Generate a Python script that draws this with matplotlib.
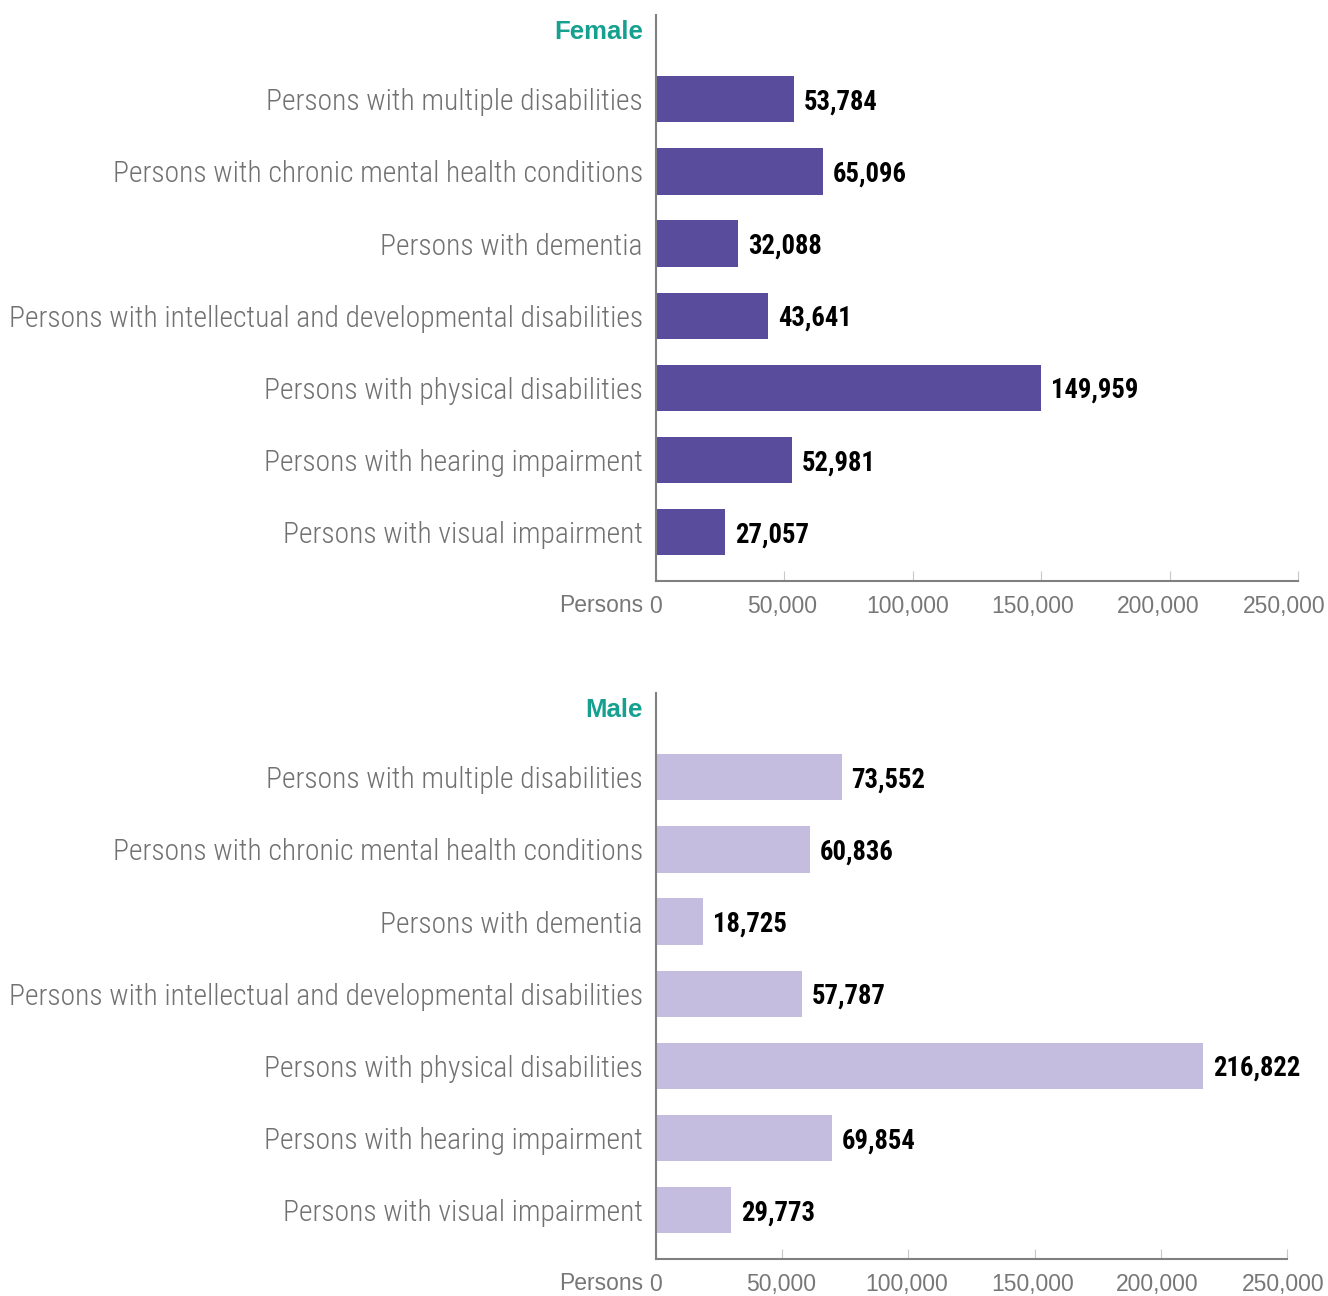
import numpy as np
import matplotlib
matplotlib.use("Agg")
import matplotlib.pyplot as plt
from matplotlib import font_manager
from matplotlib.font_manager import FontProperties
from matplotlib.textpath import TextPath
from matplotlib.transforms import ScaledTranslation

categories = [
    "Persons with multiple disabilities",
    "Persons with chronic mental health conditions",
    "Persons with dementia",
    "Persons with intellectual and developmental disabilities",
    "Persons with physical disabilities",
    "Persons with hearing impairment",
    "Persons with visual impairment",
]
female = [53784, 65096, 32088, 43641, 149959, 52981, 27057]
male = [73552, 60836, 18725, 57787, 216822, 69854, 29773]
x_ticks = [0, 50000, 100000, 150000, 200000, 250000]

# a narrow face for the category and value labels, whichever is installed
installed = {f.name for f in font_manager.fontManager.ttflist}
preferred = ["Roboto Condensed", "Liberation Sans Narrow", "Noto Sans Condensed",
             "Open Sans Condensed", "Arial Narrow"]
narrow = next((n for n in preferred if n in installed), None)
stretch = "normal"
if narrow is None:
    cond = sorted({f.name for f in font_manager.fontManager.ttflist
                   if "condensed" in str(f.stretch) and "Sans" in f.name
                   and "CJK" not in f.name})
    if cond:
        narrow, stretch = cond[0], "condensed"
    else:
        narrow = "Liberation Sans"

plain = "Liberation Sans"
grey = "#717171"
axis_grey = "#777777"
teal = "#16a08f"


def fit_size(text, weight, width_px):
    # font size (pt) that makes text span width_px at 100 dpi
    fp = FontProperties(family=narrow, weight=weight, stretch=stretch, size=10)
    w = TextPath((0, 0), text, prop=fp).get_extents().width
    return 10 * width_px * 0.72 / w


cat_size = fit_size(categories[3], "light", 632)
val_size = fit_size("149,959", "bold", 84)


def draw_panel(ax, values, colour, title, label_shift=0.0):
    y = np.arange(len(categories))
    ax.barh(y, values, height=0.64, color=colour, zorder=2)
    ax.set_ylim(len(categories) - 1 + 0.68, -1.17)
    ax.set_xlim(0, 250000)

    ax.set_yticks(y)
    ax.set_yticklabels(categories, fontfamily=narrow, fontstretch=stretch,
                       fontweight="light", fontsize=cat_size, color=grey)
    ax.tick_params(axis="y", length=0, pad=9.4)

    ax.set_xticks(x_ticks)
    ax.set_xticklabels([f"{t:,}" for t in x_ticks], fontfamily=plain,
                       fontsize=16.5, color=axis_grey)
    ax.tick_params(axis="x", direction="in", length=7, width=0.8,
                   color="#c8c8c8", pad=10)
    # tick labels drift slightly left of their ticks (label_shift px over the full scale)
    for t, lbl in zip(x_ticks, ax.get_xticklabels()):
        dx = label_shift * t / x_ticks[-1] / 100
        lbl.set_transform(lbl.get_transform() + ScaledTranslation(dx, 0, fig.dpi_scale_trans))

    for side in ("top", "right"):
        ax.spines[side].set_visible(False)
    for side in ("left", "bottom"):
        ax.spines[side].set_color("#808080")
        ax.spines[side].set_linewidth(1.5)

    for yi, v in zip(y, values):
        ax.annotate(f"{v:,}", xy=(v, yi), xytext=(7, -2), textcoords="offset points",
                    ha="left", va="center", fontfamily=narrow, fontstretch=stretch,
                    fontweight="bold", fontsize=val_size, color="black")

    ax.annotate(title, xy=(0, -0.94), xycoords=ax.get_yaxis_transform(),
                xytext=(-9.4, 0), textcoords="offset points", ha="right", va="center",
                fontfamily=plain, fontweight="bold", fontsize=18.5, color=teal)

    ax.annotate("Persons", xy=(0, 0), xycoords="axes fraction", xytext=(-9.4, -17.3),
                textcoords="offset points", ha="right", va="center",
                fontfamily=plain, fontsize=16.5, color=axis_grey)


fig = plt.figure(figsize=(13.28, 12.96), dpi=100)
ax_f = fig.add_axes([656 / 1328, 715 / 1296, 642 / 1328, 566 / 1296])
ax_m = fig.add_axes([656 / 1328, 37 / 1296, 631 / 1328, 566 / 1296])

draw_panel(ax_f, female, "#5a4c9c", "Female", label_shift=-14)
draw_panel(ax_m, male, "#c4bddf", "Male", label_shift=-4)

fig.savefig("out.png", dpi=100)
